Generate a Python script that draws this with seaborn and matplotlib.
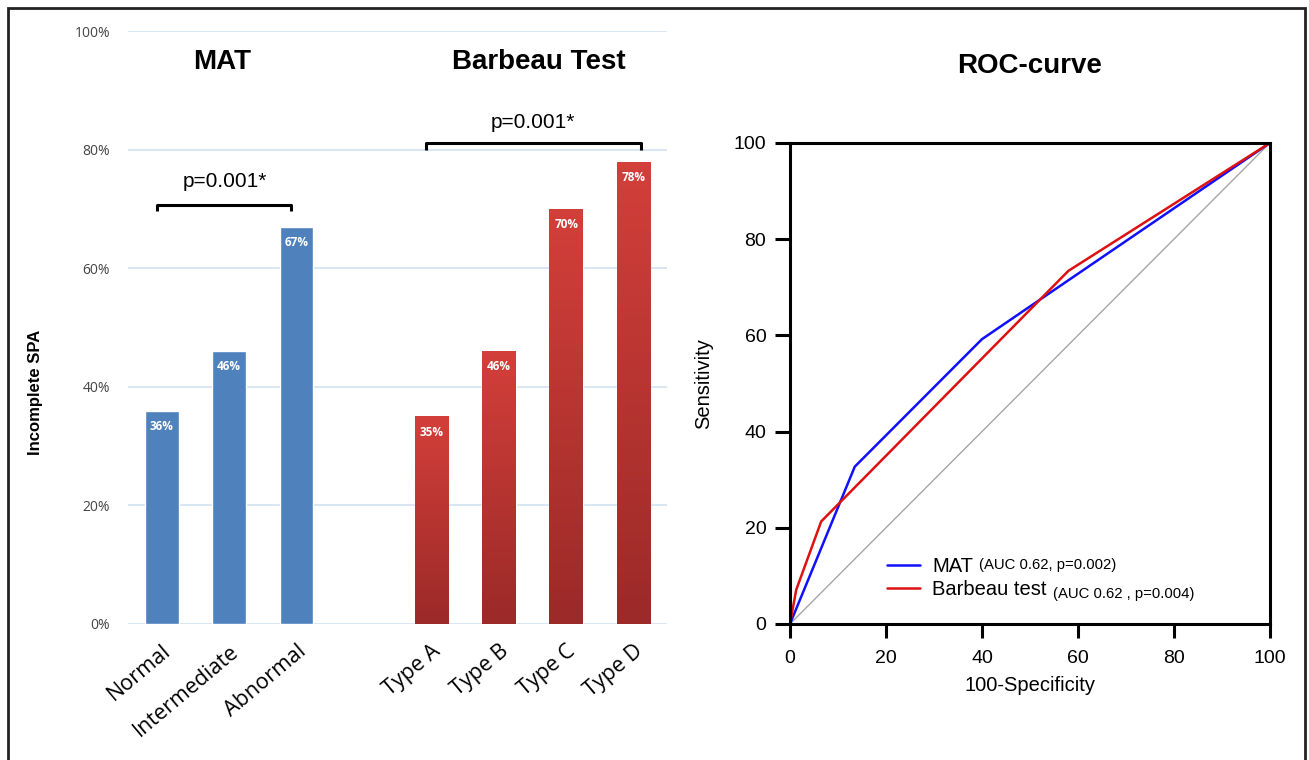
import numpy as np
import pandas as pd
import seaborn as sns
import matplotlib.pyplot as plt
from matplotlib.colors import LinearSegmentedColormap
from matplotlib.patches import Rectangle

# dados das barras (percentual de SPA incompleto)
mat_cats = ["Normal", "Intermediate", "Abnormal"]
mat_vals = [36, 46, 67]
barb_cats = ["Type A", "Type B", "Type C", "Type D"]
barb_vals = [35, 46, 70, 78]
y_ticks_pct = [0, 20, 40, 60, 80, 100]

# curvas ROC
mat_fpr = [0, 13.5, 40, 100]
mat_tpr = [0, 32.7, 59.2, 100]
barb_fpr = [0, 1.3, 6.5, 58, 100]
barb_tpr = [0, 7.1, 21.3, 73.4, 100]
roc_ticks = [0, 20, 40, 60, 80, 100]

blue = "#4f81bd"
red = "#c83a36"

sns.set_theme(style="white")
plt.rcParams["font.family"] = ["Liberation Sans", "DejaVu Sans"]
plt.rcParams["text.color"] = "black"
plt.rcParams["axes.labelcolor"] = "black"
plt.rcParams["xtick.color"] = "black"
plt.rcParams["ytick.color"] = "black"

fig = plt.figure(figsize=(13.09, 7.6), dpi=100)
ax1 = fig.add_axes([0.0978, 0.179, 0.412, 0.780])
ax2 = fig.add_axes([0.6035, 0.179, 0.3667, 0.633])

# ---- painel esquerdo: barras ----
ordem = mat_cats + [" "] + barb_cats
df = pd.DataFrame({"cat": mat_cats + barb_cats, "val": mat_vals + barb_vals})
paleta = {c: blue for c in mat_cats}
paleta.update({c: red for c in barb_cats})
sns.barplot(data=df, x="cat", y="val", hue="cat", order=ordem, palette=paleta,
            width=0.5, legend=False, saturation=1, ax=ax1, zorder=3)

# gradiente nas barras vermelhas
grad = LinearSegmentedColormap.from_list("g", ["#9b2a28", "#d33f3a"])
for p in ax1.patches:
    if p.get_height() > 0 and p.get_facecolor()[0] > 0.6:
        x0, w, h = p.get_x(), p.get_width(), p.get_height()
        im = ax1.imshow(np.linspace(0, 1, 100).reshape(-1, 1), cmap=grad, aspect="auto",
                        extent=[x0, x0 + w, 0, h], origin="lower", zorder=3.5)
        im.set_clip_path(p)

for cont in ax1.containers:
    ax1.bar_label(cont, labels=[f"{v:.0f}%" if v > 0 else "" for v in cont.datavalues],
                  padding=-16, color="white", fontsize=8.5, fontweight="bold", zorder=5,
                  family="Open Sans")
for t in ax1.texts:
    t.set_zorder(6)

ax1.set_xlim(-0.5, 7.5)
ax1.set_ylim(0, 100)
ax1.set_yticks(y_ticks_pct)
ax1.set_yticklabels([f"{v}%" for v in y_ticks_pct], fontsize=10, color="#444444", family="Open Sans")
ax1.yaxis.grid(True, color="#d6e4f3", linewidth=1.3, zorder=0)
ax1.tick_params(axis="y", length=0, pad=13)
ax1.tick_params(axis="x", length=0, pad=12)
ax1.set_xticks(range(len(ordem)))
ax1.set_xticklabels(ordem, rotation=40, ha="right", rotation_mode="anchor",
                    fontsize=15.5, family="Open Sans")
for s in ax1.spines.values():
    s.set_visible(False)
ax1.set_xlabel("")
ax1.set_ylabel("Incomplete SPA", fontsize=12, fontweight="bold")
ax1.yaxis.set_label_coords(-0.158, 0.391)

ax1.text(0.9, 94.8, "MAT", ha="center", va="center", fontsize=20, fontweight="bold")
ax1.text(5.6, 94.8, "Barbeau Test", ha="center", va="center", fontsize=20, fontweight="bold")

# colchetes de significancia
ax1.plot([-0.07, -0.07, 1.92, 1.92], [69.6, 70.7, 70.7, 69.6], color="black", lw=2.2,
         solid_capstyle="butt", zorder=4)
ax1.text(0.93, 74.6, "p=0.001*", ha="center", va="center", fontsize=15)
ax1.plot([3.92, 3.92, 7.11, 7.11], [80.0, 81.1, 81.1, 80.0], color="black", lw=2.2,
         solid_capstyle="butt", zorder=4)
ax1.text(5.51, 84.6, "p=0.001*", ha="center", va="center", fontsize=15)

# ---- painel direito: curva ROC ----
ax2.plot([0, 100], [0, 100], color="#a6a6a6", lw=1)
sns.lineplot(x=mat_fpr, y=mat_tpr, color="#1010ff", lw=1.8, ax=ax2, label="MAT", sort=False)
sns.lineplot(x=barb_fpr, y=barb_tpr, color="#dd1111", lw=1.8, ax=ax2, label="Barbeau test", sort=False)
ax2.set_xlim(0, 100)
ax2.set_ylim(0, 100)
ax2.set_xticks(roc_ticks)
ax2.set_yticks(roc_ticks)
ax2.tick_params(axis="both", direction="out", width=2.2, labelsize=14, bottom=True, left=True)
ax2.tick_params(axis="x", length=10, pad=9)
ax2.tick_params(axis="y", length=11, pad=6)
for s in ax2.spines.values():
    s.set_color("black")
    s.set_linewidth(2.2)
ax2.set_xlabel("100-Specificity", fontsize=14.5, labelpad=6)
ax2.set_ylabel("Sensitivity", fontsize=14.5, labelpad=15)
ax2.set_title("ROC-curve", fontsize=20, fontweight="bold", pad=50)

leg = ax2.legend(loc="lower left", bbox_to_anchor=(0.185, 0.035), frameon=False, fontsize=14.5,
                 handlelength=1.65, handletextpad=0.6, labelspacing=0.2, borderaxespad=0)
ax2.text(0.394, 0.122, "(AUC 0.62, p=0.002)", transform=ax2.transAxes, fontsize=10.7,
         va="center", ha="left")
ax2.text(0.548, 0.063, "(AUC 0.62 , p=0.004)", transform=ax2.transAxes, fontsize=10.7,
         va="center", ha="left")

# moldura externa
fig.patches.append(Rectangle((0.006, -0.01), 0.991, 0.999, transform=fig.transFigure,
                             fill=False, edgecolor="#222222", lw=2))

fig.savefig("out.png", dpi=100)
